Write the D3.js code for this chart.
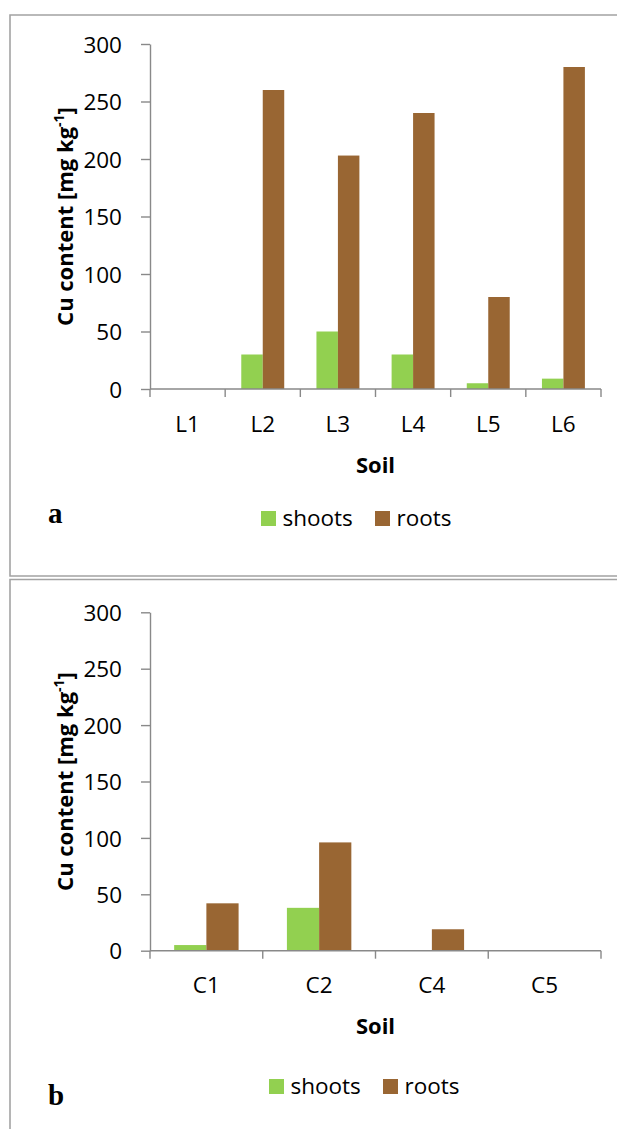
<!DOCTYPE html>
<html>
<head>
<meta charset="utf-8">
<script src="https://cdn.jsdelivr.net/npm/d3@7"></script>
<style>
  html, body { margin: 0; padding: 0; background: #fff; }
  svg { display: block; }
  text { font-family: "Open Sans", "Noto Sans", sans-serif; fill: #000; }
</style>
</head>
<body>
<script>
// ---------- data ----------
const seriesNames = ["shoots", "roots"];
const seriesColors = ["#92D050", "#996633"];

const categoriesA = ["L1", "L2", "L3", "L4", "L5", "L6"];
const shootsA = [0, 30, 50, 30, 5, 9];
const rootsA = [0, 260, 203, 240, 80, 280];

const categoriesB = ["C1", "C2", "C4", "C5"];
const shootsB = [5, 38, 0, 0];
const rootsB = [42, 96, 19, 0];

const yTicks = [0, 50, 100, 150, 200, 250, 300];
const yTitleMain = "Cu content [mg kg";
const yTitleSup = "-1";
const xTitle = "Soil";

// ---------- drawing ----------
const W = 617, H = 1129;
const svg = d3.select("body").append("svg").attr("width", W).attr("height", H);
svg.append("rect").attr("width", W).attr("height", H).attr("fill", "#fff");

const axisColor = "#898989";
const borderColor = "#a3a3a3";

// panel borders
svg.append("path").attr("d", "M640,15H10V576H640").attr("fill", "none")
  .attr("stroke", borderColor).attr("stroke-width", 1.6);
svg.append("path").attr("d", "M640,579.5H10V1140").attr("fill", "none")
  .attr("stroke", borderColor).attr("stroke-width", 1.6);

function panel(cfg) {
  const { cats, shoots, roots, y0, y300, letter, letterY, legendX, legendY } = cfg;
  const g = svg.append("g");
  const x0 = d3.scaleBand().domain(cats).range([150, 601]).paddingInner(0).paddingOuter(0);
  const x1 = d3.scaleBand().domain(seriesNames).range([0, x0.bandwidth()])
    .paddingInner(0).paddingOuter(0.75);
  const y = d3.scaleLinear().domain([0, 300]).range([y0, y300]);
  const color = d3.scaleOrdinal().domain(seriesNames).range(seriesColors);

  const rows = cats.map((c, i) => ({ cat: c, vals: [
    { s: "shoots", v: shoots[i] }, { s: "roots", v: roots[i] }] }));

  // bars
  const grp = g.selectAll("g.cat").data(rows).enter().append("g")
    .attr("transform", d => `translate(${x0(d.cat)},0)`);
  grp.selectAll("rect").data(d => d.vals.filter(e => e.v > 0)).enter().append("rect")
    .attr("x", d => x1(d.s))
    .attr("width", x1.bandwidth())
    .attr("y", d => y(d.v))
    .attr("height", d => y(0) - y(d.v))
    .attr("fill", d => color(d.s));

  // y axis
  const ya = g.append("g").attr("transform", "translate(150,0)")
    .call(d3.axisLeft(y).tickValues(yTicks).tickSize(9).tickSizeOuter(0).tickPadding(19));
  ya.select(".domain").attr("stroke", axisColor).attr("stroke-width", 1.4);
  ya.selectAll(".tick line").attr("stroke", axisColor).attr("stroke-width", 1.4);
  ya.selectAll(".tick text").attr("font-family", "'Open Sans', sans-serif")
    .attr("font-size", 22.5).attr("fill", "#000").attr("dy", "0.36em");

  // x axis (labels at band centres, ticks at band boundaries)
  const xa = g.append("g").attr("transform", `translate(0,${y0})`)
    .call(d3.axisBottom(x0).tickSize(0).tickSizeOuter(0));
  xa.select(".domain").attr("stroke", axisColor).attr("stroke-width", 1.6)
    .attr("d", `M${x0.range()[0]},0H${x0.range()[1]}`);
  xa.selectAll(".tick text").attr("font-family", "'Open Sans', sans-serif")
    .attr("font-size", 22.5).attr("fill", "#000").attr("y", 42.5).attr("dy", 0);
  const bounds = cats.map(c => x0(c)).concat([x0.range()[1]]);
  xa.selectAll("line.bt").data(bounds).enter().append("line").attr("class", "bt")
    .attr("x1", d => d).attr("x2", d => d).attr("y1", 0).attr("y2", 8)
    .attr("stroke", axisColor).attr("stroke-width", 1.4);

  // x title
  g.append("text").attr("x", (x0.range()[0] + x0.range()[1]) / 2).attr("y", y0 + 83.5)
    .attr("text-anchor", "middle").attr("font-weight", "bold").attr("font-size", 22)
    .text(xTitle);

  // y title
  const yt = g.append("text")
    .attr("transform", `translate(73,${(y(0) + y(300)) / 2}) rotate(-90)`)
    .attr("text-anchor", "middle").attr("font-weight", "bold").attr("font-size", 22);
  yt.append("tspan").text(yTitleMain);
  yt.append("tspan").attr("font-size", 14).attr("dy", -9).text(yTitleSup);
  yt.append("tspan").attr("dy", 9).text("]");

  // legend
  const lg = g.append("g").attr("transform", `translate(${legendX},${legendY})`);
  seriesNames.forEach((s, i) => {
    const ox = i * 114;
    lg.append("rect").attr("x", ox).attr("y", -15).attr("width", 15).attr("height", 15)
      .attr("fill", color(s));
    lg.append("text").attr("x", ox + 21.5).attr("y", 0).attr("font-size", 22.5).text(s);
  });

  // panel letter
  g.append("text").attr("x", 48).attr("y", letterY)
    .style("font-family", "'Liberation Serif', 'Times New Roman', serif")
    .attr("font-weight", "bold").attr("font-size", 29).text(letter);
}

panel({ cats: categoriesA, shoots: shootsA, roots: rootsA, y0: 389, y300: 44,
  letter: "a", letterY: 522.5, legendX: 261, legendY: 526 });
panel({ cats: categoriesB, shoots: shootsB, roots: rootsB, y0: 950.7, y300: 612.3,
  letter: "b", letterY: 1105, legendX: 269, legendY: 1094 });
</script>
</body>
</html>
